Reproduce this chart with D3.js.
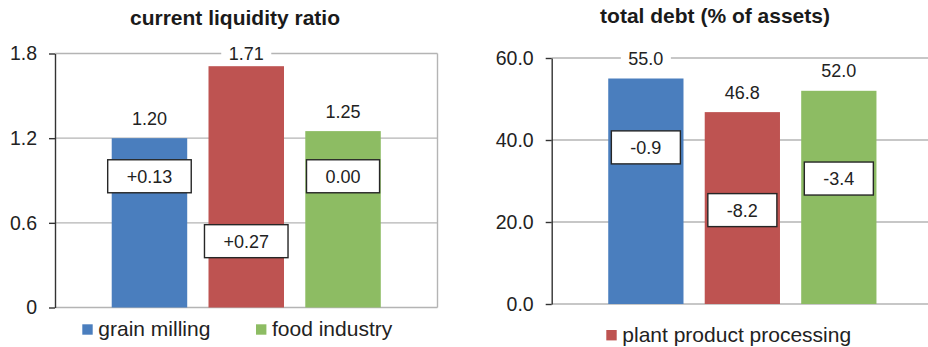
<!DOCTYPE html>
<html>
<head>
<meta charset="utf-8">
<script src="https://cdn.jsdelivr.net/npm/d3@7"></script>
<style>
  html, body { margin: 0; padding: 0; background: #fff; overflow: hidden; }
  svg { display: block; }
  text { font-family: "Liberation Sans", Arial, Helvetica, sans-serif; fill: #222; }
</style>
</head>
<body>
<svg id="chart" width="928" height="347"></svg>
<script>
// Sectors compared in both panels
const sectors = ["grain milling", "plant product processing", "food industry"];
const sectorColors = ["#4A7EBE", "#BE5351", "#8DBC63"];

// Current liquidity ratio and its year-on-year change
const liquidityRatio = [1.20, 1.71, 1.25];
const liquidityChange = [0.13, 0.27, 0.00];
const liquidityTicks = [0, 0.6, 1.2, 1.8];
const liquidityTickLabels = ["0", "0.6", "1.2", "1.8"];

// Total debt as % of assets and its change in percentage points
const debtShare = [55.0, 46.8, 52.0];
const debtChange = [-0.9, -8.2, -3.4];
const debtTicks = [0, 20, 40, 60];
const debtTickLabels = ["0.0", "20.0", "40.0", "60.0"];

const signed2 = v => (v > 0 ? "+" : "") + v.toFixed(2);
const signed1 = v => (v > 0 ? "+" : "") + v.toFixed(1);

// Panel layout
const panels = [
  {
    title: "current liquidity ratio", titleX: 235, titleY: 25,
    values: liquidityRatio, changes: liquidityChange,
    valueFmt: v => v.toFixed(2), changeFmt: signed2,
    ticks: liquidityTicks, tickLabels: liquidityTickLabels, max: 1.8,
    left: 55, right: 437.5, top: 53.5, bottom: 307.5, border: true,
    boxAt: [0.93, 0.47, 0.93],
    legend: [{ i: 0, x: 82.3 }, { i: 2, x: 256 }], legendY: 324.3
  },
  {
    title: "total debt (% of assets)", titleX: 715, titleY: 23,
    values: debtShare, changes: debtChange,
    valueFmt: v => v.toFixed(1), changeFmt: signed1,
    ticks: debtTicks, tickLabels: debtTickLabels, max: 60,
    left: 551.7, right: 933, top: 58, bottom: 304, border: false,
    boxAt: [38.2, 22.9, 30.6],
    legend: [{ i: 1, x: 606.3 }], legendY: 330
  }
];

const svg = d3.select("#chart");

panels.forEach(p => {
  const g = svg.append("g");

  const y = d3.scaleLinear().domain([0, p.max]).range([p.bottom, p.top]);
  const x = d3.scaleBand()
    .domain(d3.range(sectors.length))
    .range([p.left, p.right])
    .paddingInner(0.22)
    .paddingOuter(0.586);

  // Title
  g.append("text")
    .attr("x", p.titleX).attr("y", p.titleY)
    .attr("text-anchor", "middle")
    .style("font-size", "21px").style("font-weight", "bold").style("fill", "#1a1a1a")
    .text(p.title);

  // Horizontal gridlines (including the baseline)
  g.append("g").selectAll("line").data(p.ticks).join("line")
    .attr("x1", p.left).attr("x2", p.right)
    .attr("y1", d => y(d)).attr("y2", d => y(d))
    .attr("stroke", "#b4b4b4").attr("stroke-width", 1.4);

  if (p.border) {
    g.append("line")
      .attr("x1", p.right).attr("x2", p.right)
      .attr("y1", y(p.max)).attr("y2", y(0))
      .attr("stroke", "#b4b4b4").attr("stroke-width", 1.4);
  }

  // Bars
  g.append("g").selectAll("rect").data(p.values).join("rect")
    .attr("x", (d, i) => x(i))
    .attr("width", x.bandwidth())
    .attr("y", d => y(d))
    .attr("height", d => y(0) - y(d))
    .attr("fill", (d, i) => sectorColors[i]);

  // Y axis
  const axis = d3.axisLeft(y)
    .tickValues(p.ticks)
    .tickFormat((d, i) => p.tickLabels[i])
    .tickSize(6).tickSizeOuter(0).tickPadding(12);
  const ax = g.append("g").attr("transform", `translate(${p.left},0)`).call(axis);
  ax.select(".domain").attr("stroke", "#333").attr("stroke-width", 1.4);
  ax.selectAll(".tick line").attr("stroke", "#333").attr("stroke-width", 1.4);
  ax.selectAll(".tick text")
    .style("font-size", "19.5px").style("fill", "#222")
    .attr("font-family", null);

  // Value labels above the bars, kept inside the plot area
  const vl = g.append("g").selectAll("g").data(p.values).join("g")
    .attr("transform", (d, i) => {
      const base = Math.max(y(d) - 13.5, p.top + 6.5);
      return `translate(${x(i) + x.bandwidth() / 2},${base})`;
    });
  vl.append("rect").attr("fill", "#fff");
  vl.append("text")
    .attr("text-anchor", "middle")
    .style("font-size", "18px")
    .text(d => p.valueFmt(d));
  vl.each(function () {
    const t = d3.select(this).select("text");
    const w = t.node().getComputedTextLength();
    d3.select(this).select("rect")
      .attr("x", -w / 2 - 7.5).attr("width", w + 15)
      .attr("y", -15).attr("height", 21);
  });

  // Change boxes
  const cb = g.append("g").selectAll("g").data(p.changes).join("g")
    .attr("transform", (d, i) => `translate(${x(i) + x.bandwidth() / 2},${y(p.boxAt[i])})`);
  cb.append("rect")
    .attr("fill", "#fff").attr("stroke", "#262626").attr("stroke-width", 1.4);
  cb.append("text")
    .attr("text-anchor", "middle")
    .attr("y", 6.5)
    .style("font-size", "18px")
    .text(d => p.changeFmt(d));
  cb.each(function () {
    const t = d3.select(this).select("text");
    const w = t.node().getComputedTextLength();
    d3.select(this).select("rect")
      .attr("x", -w / 2 - 19).attr("width", w + 38)
      .attr("y", -16.5).attr("height", 33);
  });

  // Legend
  const lg = g.append("g").selectAll("g").data(p.legend).join("g")
    .attr("transform", d => `translate(${d.x},${p.legendY})`);
  lg.append("rect")
    .attr("width", 10.4).attr("height", 10.4)
    .attr("fill", d => sectorColors[d.i]);
  lg.append("text")
    .attr("x", 16).attr("y", 11.6)
    .style("font-size", "21px")
    .text(d => sectors[d.i]);
});
</script>
</body>
</html>
